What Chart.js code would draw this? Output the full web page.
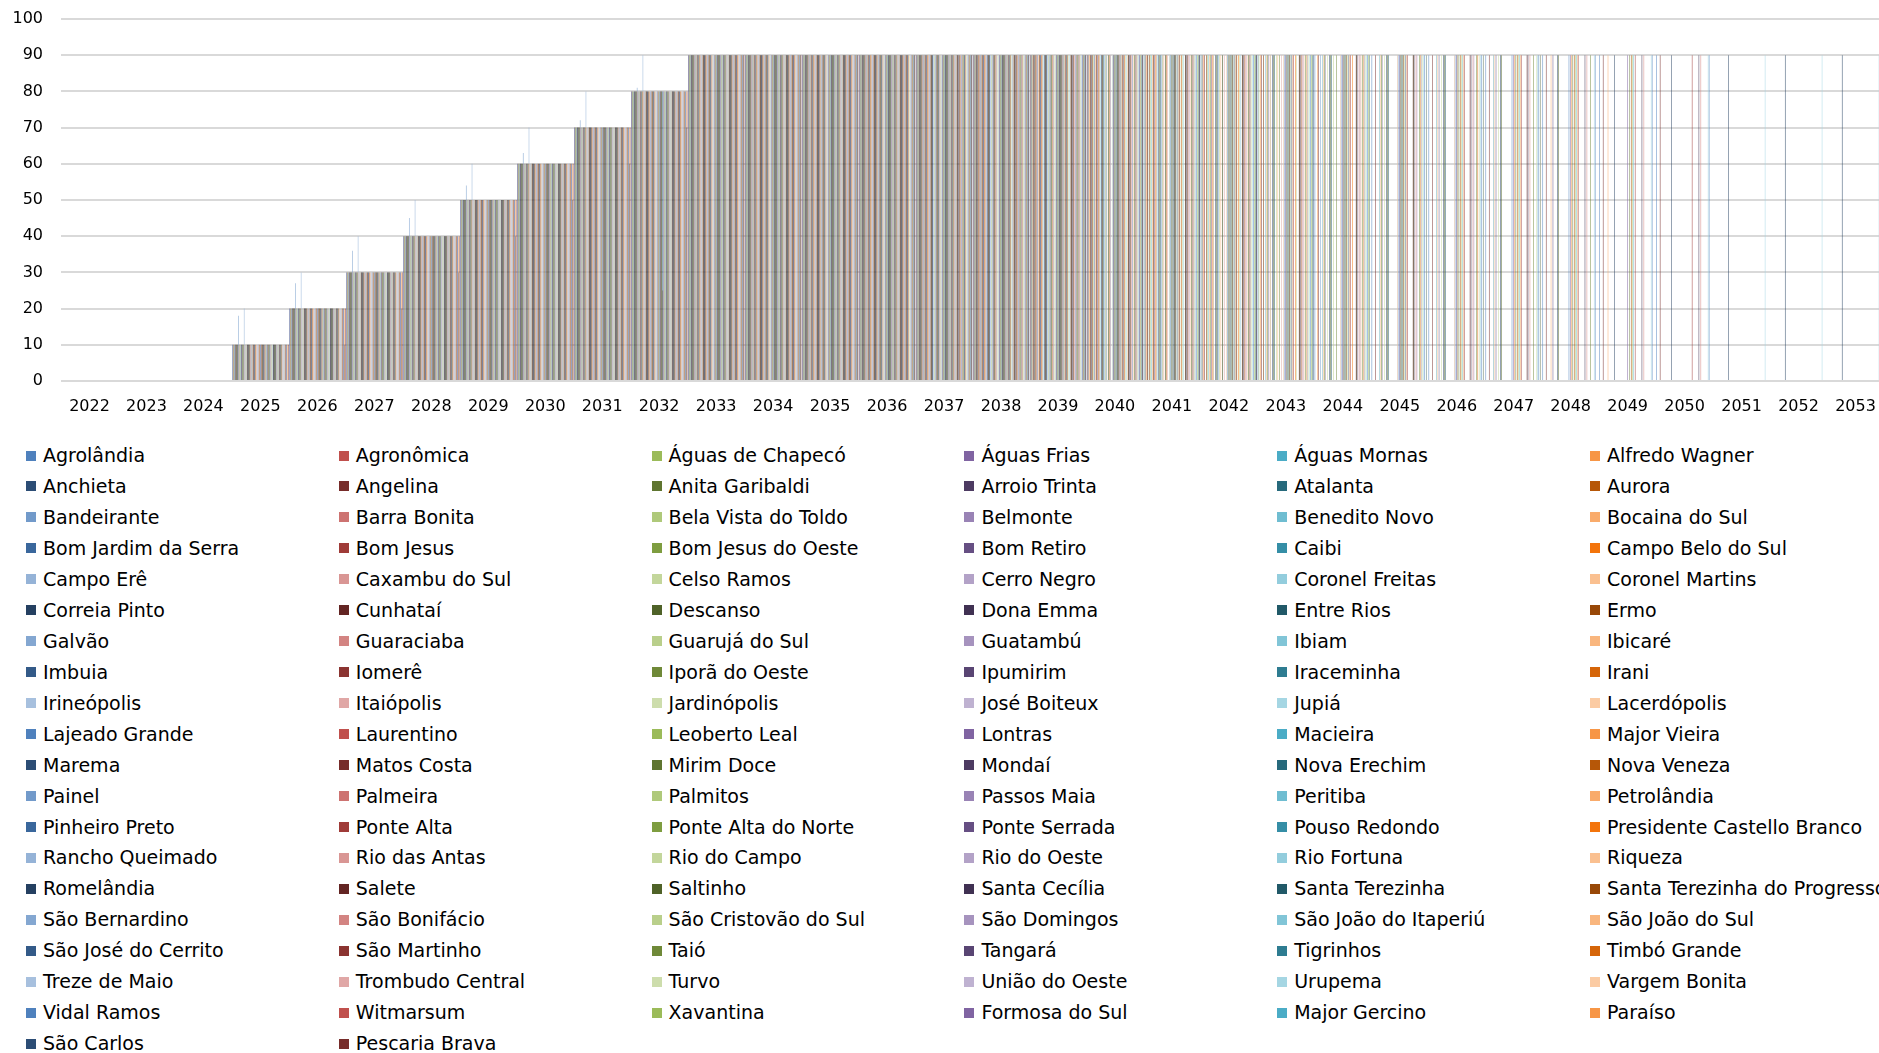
<!DOCTYPE html>
<html lang="pt-BR">
<head>
<meta charset="utf-8">
<title>Metas por município</title>
<script src="https://cdn.jsdelivr.net/npm/chart.js@4.4.0/dist/chart.umd.min.js"></script>
<style>
  html, body { margin: 0; padding: 0; background: #fff; overflow: hidden; width: 1879px; height: 1053px; }
  #grafico { position: absolute; left: 0; top: 0; }
  #legenda { position: absolute; left: 26px; top: 440px; width: 1900px; font: 19px "DejaVu Sans", Verdana, sans-serif; color: #000; }
  .item { position: absolute; white-space: nowrap; height: 31px; line-height: 31px; }
  .cor { display: inline-block; width: 10px; height: 10px; margin-right: 7px; vertical-align: middle; position: relative; top: -1px; }
</style>
</head>
<body>
<canvas id="grafico" width="1884" height="430"></canvas>
<div id="legenda"></div>
<script>
// Anos do eixo X
const anos = ['2022','2023','2024','2025','2026','2027','2028','2029','2030','2031','2032',
  '2033','2034','2035','2036','2037','2038','2039','2040','2041','2042','2043','2044',
  '2045','2046','2047','2048','2049','2050','2051','2052','2053'];

// Municípios (ordem das séries)
const municipios = [
  'Agrolândia','Agronômica','Águas de Chapecó','Águas Frias','Águas Mornas','Alfredo Wagner',
  'Anchieta','Angelina','Anita Garibaldi','Arroio Trinta','Atalanta','Aurora',
  'Bandeirante','Barra Bonita','Bela Vista do Toldo','Belmonte','Benedito Novo','Bocaina do Sul',
  'Bom Jardim da Serra','Bom Jesus','Bom Jesus do Oeste','Bom Retiro','Caibi','Campo Belo do Sul',
  'Campo Erê','Caxambu do Sul','Celso Ramos','Cerro Negro','Coronel Freitas','Coronel Martins',
  'Correia Pinto','Cunhataí','Descanso','Dona Emma','Entre Rios','Ermo',
  'Galvão','Guaraciaba','Guarujá do Sul','Guatambú','Ibiam','Ibicaré',
  'Imbuia','Iomerê','Iporã do Oeste','Ipumirim','Iraceminha','Irani',
  'Irineópolis','Itaiópolis','Jardinópolis','José Boiteux','Jupiá','Lacerdópolis',
  'Lajeado Grande','Laurentino','Leoberto Leal','Lontras','Macieira','Major Vieira',
  'Marema','Matos Costa','Mirim Doce','Mondaí','Nova Erechim','Nova Veneza',
  'Painel','Palmeira','Palmitos','Passos Maia','Peritiba','Petrolândia',
  'Pinheiro Preto','Ponte Alta','Ponte Alta do Norte','Ponte Serrada','Pouso Redondo','Presidente Castello Branco',
  'Rancho Queimado','Rio das Antas','Rio do Campo','Rio do Oeste','Rio Fortuna','Riqueza',
  'Romelândia','Salete','Saltinho','Santa Cecília','Santa Terezinha','Santa Terezinha do Progresso',
  'São Bernardino','São Bonifácio','São Cristovão do Sul','São Domingos','São João do Itaperiú','São João do Sul',
  'São José do Cerrito','São Martinho','Taió','Tangará','Tigrinhos','Timbó Grande',
  'Treze de Maio','Trombudo Central','Turvo','União do Oeste','Urupema','Vargem Bonita',
  'Vidal Ramos','Witmarsum','Xavantina','Formosa do Sul','Major Gercino','Paraíso',
  'São Carlos','Pescaria Brava'
];

// Valores (%) por ano, a partir de 2022, na mesma ordem dos municípios
const valores = [
  [0,0,0,10,20,30,40,50,60,70,80, 90,90,90,90,90, 90,90,90,90,90, 90,90,90,90,90, 90,90,90], // Agrolândia
  [0,0,0,10,20,30,40,50,60,70,80, 90,90,90,90,90, 90,90,90],
  [0,0,0,10,20,30,40,50,60,70,80, 90,90,90,90,90, 90,90,90,90,90, 90],
  [0,0,0,10,20,30,40,50,60,70,80, 90,90,90,90,90, 90,90,90,90,90],
  [0,0,0,10,20,30,40,50,60,70,80, 90,90,90,90,90, 90,90],
  [0,0,0,10,20,30,40,50,60,70,80, 90,90,90,90,90, 90,90,90,90,90, 90,90],
  [0,0,0,10,20,30,40,50,60,70,80, 90,90,90,90,90, 90], // Anchieta
  [0,0,0,10,20,30,40,50,60,70,80, 90,90,90,90,90, 90,90,90,90,90, 90,90,90,90,90, 90,90,90],
  [0,0,0,10,20,30,40,50,60,70,80, 90,90,90,90,90, 90,90,90,90],
  [0,0,0,10,20,30,40,50,60,70,80, 90,90,90,90,90, 90,90,90],
  [0,0,0,10,20,30,40,50,60,70,80, 90,90,90,90,90],
  [0,0,0,10,20,30,40,50,60,70,80, 90,90,90,90,90, 90,90,90,90,90, 90],
  [0,0,0,18,27,36,45,54,63,72,81, 90,90,90,90,90, 90,90,90,90,90, 90,90], // Bandeirante
  [0,0,0,10,20,30,40,50,60,70,80, 90,90,90,90,90, 90,90],
  [0,0,0,10,20,30,40,50,60,70,80, 90,90,90,90,90, 90,90,90,90,90],
  [0,0,0,10,20,30,40,50,60,70,80, 90,90,90,90,90, 90,90,90],
  [0,0,0,10,20,30,40,50,60,70,80, 90,90,90,90,90, 90,90,90,90,90, 90,90,90,90,90],
  [0,0,0,10,20,30,40,50,60,70,80, 90,90,90,90,90, 90,90,90,90,90, 90,90,90,90,90, 90,90],
  [0,0,0,10,20,30,40,50,60,70,80, 90,90,90,90,90, 90], // Bom Jardim da Serra
  [0,0,0,10,20,30,40,50,60,70,80, 90,90,90,90,90, 90,90,90,90],
  [0,0,0,10,20,30,40,50,60,70,80, 90,90,90,90,90, 90,90,90,90,90, 90,90,90],
  [0,0,0,10,20,30,40,50,60,70,80, 90,90,90,90,90, 90,90,90,90,90, 90,90,90,90,90, 90],
  [0,0,0,10,20,30,40,50,60,70,80, 90,90,90,90,90, 90,90],
  [0,0,0,10,20,30,40,50,60,70,80, 90,90,90,90,90, 90,90,90,90,90],
  [0,0,0,20,30,40,50,60,70,80,90, 90,90,90,90,90, 90,90,90], // Campo Erê
  [0,0,0,10,20,30,40,50,60,70,80, 90,90,90,90,90, 90,90,90,90,90, 90],
  [0,0,0,10,20,30,40,50,60,70,80, 90,90,90,90,90, 90,90,90,90,90, 90,90,90,90,90],
  [0,0,0,10,20,30,40,50,60,70,80, 90,90,90,90,90, 90],
  [0,0,0,10,20,30,40,50,60,70,80, 90,90,90,90,90, 90,90,90,90],
  [0,0,0,10,20,30,40,50,60,70,80, 90,90,90,90,90],
  [0,0,0,10,20,30,40,50,60,70,80, 90,90,90,90,90, 90,90,90,90,90, 90,90,90,90,90, 90,90,90,90,90, 90], // Correia Pinto
  [0,0,0,10,20,30,40,50,60,70,80, 90,90,90,90,90, 90,90,90],
  [0,0,0,10,20,30,40,50,60,70,80, 90,90,90,90,90, 90,90,90,90,90, 90,90,90,90,90, 90],
  [0,0,0,10,20,30,40,50,60,70,80, 90,90,90,90,90, 90,90],
  [0,0,0,10,20,30,40,50,60,70,80, 90,90,90,90,90, 90,90,90,90,90, 90,90,90,90],
  [0,0,0,10,20,30,40,50,60,70,80, 90,90,90,90],
  [0,0,0,10,20,30,40,50,60,70,80, 90,90,90,90,90, 90,90,90,90,90], // Galvão
  [0,0,0,10,20,30,40,50,60,70,80, 90,90,90,90],
  [0,0,0,10,20,30,40,50,60,70,80, 90,90,90,90,90, 90,90,90,90,90, 90,90],
  [0,0,0,10,20,30,40,50,60,70,80, 90,90,90,90,90, 90,90,90,90],
  [0,0,0,10,20,30,40,50,60,70,80, 90,90,90,90,90, 90,90,90],
  [0,0,0,10,20,30,40,50,60,70,80, 90,90,90,90,90, 90,90,90,90,90, 90],
  [0,0,0,10,20,30,40,50,60,70,80, 90,90,90,90,90, 90,90], // Imbuia
  [0,0,0,10,20,30,40,50,60,70,80, 90,90,90,90,90, 90],
  [0,0,0,10,20,30,40,50,60,70,80, 90,90,90,90,90, 90,90,90,90,90, 90,90],
  [0,0,0,10,20,30,40,50,60,70,80, 90,90,90,90,90, 90,90,90,90,90],
  [0,0,0,10,20,30,40,50,60,70,80, 90,90,90,90,90],
  [0,0,0,10,20,30,40,50,60,70,80, 90,90,90,90,90, 90,90,90,90],
  [0,0,0,10,20,30,40,50,60,70,80, 90,90,90,90,90, 90,90,90], // Irineópolis
  [0,0,0,10,20,30,40,50,60,70,80, 90,90,90,90,90, 90,90,90,90,90, 90],
  [0,0,0,10,20,30,40,50,60,70,80, 90,90,90,90,90, 90,90],
  [0,0,0,10,20,30,40,50,60,70,80, 90,90,90,90,90],
  [0,0,0,10,20,30,40,50,60,70,80, 90,90,90,90,90, 90,90,90,90],
  [0,0,0,10,20,30,40,50,60,70,80, 90,90,90,90,90, 90,90,90,90,90, 90,90,90,90],
  [0,0,0,10,20,30,40,50,60,70,80, 90,90,90,90,90, 90,90,90,90,90, 90,90,90,90,90, 90], // Lajeado Grande
  [0,0,0,10,20,30,40,50,60,70,80, 90,90,90,90,90, 90,90,90],
  [0,0,0,10,20,30,40,50,60,70,80, 90,90,90,90,90, 90,90,90,90,90],
  [0,0,0,10,20,30,40,50,60,70,80, 90,90,90,90,90, 90,90,90,90,90, 90,90,90,90,90, 90,90],
  [0,0,0,10,20,30,40,50,60,70,80, 90,90,90,90,90, 90,90,90,90,90, 90,90,90,90],
  [0,0,0,10,20,30,40,50,60,70,80, 90,90,90,90,90, 90,90,90,90,90, 90,90,90,90,90, 90],
  [0,0,0,10,20,30,40,50,60,70,80, 90,90,90,90,90, 90,90,90,90,90, 90,90,90], // Marema
  [0,0,0,10,20,30,40,50,60,70,80, 90,90,90,90,90, 90,90],
  [0,0,0,10,20,30,40,50,60,70,80, 90,90,90,90,90, 90,90,90,90,90, 90,90,90,90,90, 90,90],
  [0,0,0,10,20,30,40,50,60,70,80, 90,90,90,90,90, 90,90,90,90],
  [0,0,0,10,20,30,40,50,60,70,80, 90,90,90,90,90, 90,90,90,90,90, 90,90,90],
  [0,0,0,10,20,30,40,50,60,70,25, 90,90,90,90,90, 90,90,90,90,90, 90,90,90,90,90, 90,90], // Nova Veneza
  [0,0,0,10,20,30,40,50,60,70,80, 90,90,90,90,90, 90,90,90,90,90, 90], // Painel
  [0,0,0,10,20,30,40,50,60,70,80, 90,90,90,90,90, 90,90,90],
  [0,0,0,10,20,30,40,50,60,70,80, 90,90,90,90,90, 90,90,90,90,90, 90,90,90,90,90, 90,90],
  [0,0,0,10,20,30,40,50,60,70,80, 90,90,90,90,90, 90,90,90,90,90, 90,90,90],
  [0,0,0,10,20,30,40,50,60,70,80, 90,90,90,90,90, 90,90,90,90,90, 90,90,90,90,90, 90,90],
  [0,0,0,10,20,30,40,50,60,70,80, 90,90,90,90,90, 90,90,90,90,90, 90,90,90,90,90, 90],
  [0,0,0,10,20,30,40,50,60,70,80, 90,90,90,90,90, 90], // Pinheiro Preto
  [0,0,0,10,20,30,40,50,60,70,80, 90,90,90,90,90, 90,90,90,90,90, 90,90,90,90,90, 90,90,90],
  [0,0,0,10,20,30,40,50,60,70,80, 90,90,90,90,90, 90,90,90,90,90],
  [0,0,0,10,20,30,40,50,60,70,80, 90,90,90,90,90, 90,90,90],
  [0,0,0,10,20,30,40,50,60,70,80, 90,90,90,90,90, 90,90],
  [0,0,0,10,20,30,40,50,60,70,80, 90,90,90,90,90, 90,90,90,90,90, 90,90],
  [0,0,0,10,20,30,40,50,60,70,80, 90,90,90,90,90, 90,90,90,90], // Rancho Queimado
  [0,0,0,10,20,30,40,50,60,70,80, 90,90,90,90,90],
  [0,0,0,10,20,30,40,50,60,70,80, 90,90,90,90,90, 90,90,90,90,90, 90],
  [0,0,0,10,20,30,40,50,60,70,80, 90,90,90,90,90, 90],
  [0,0,0,10,20,30,40,50,60,70,80, 90,90,90,90,90, 90,90,90,90,90],
  [0,0,0,10,20,30,40,50,60,70,80, 90,90,90,90,90, 90,90,90],
  [0,0,0,10,20,30,40,50,60,70,80, 90,90,90,90,90, 90,90], // Romelândia
  [0,0,0,10,20,30,40,50,60,70,80, 90,90,90,90,90, 90,90,90,90,90, 90,90,90,90,90],
  [0,0,0,10,20,30,40,50,60,70,80, 90,90,90,90,90, 90,90,90,90,90, 90,90,90],
  [0,0,0,10,20,30,40,50,60,70,80, 90,90,90,90,90, 90,90,90,90,90, 90,90,90,90,90, 90,90,90],
  [0,0,0,10,20,30,40,50,60,70,80, 90,90,90,90],
  [0,0,0,10,20,30,40,50,60,70,80, 90,90,90,90,90, 90,90,90,90,90, 90],
  [0,0,0,10,20,30,40,50,60,70,80, 90,90,90,90,90, 90,90,90,90], // São Bernardino
  [0,0,0,10,20,30,40,50,60,70,80, 90,90,90,90,90, 90,90,90,90,90, 90,90,90,90,90, 90,90,90],
  [0,0,0,10,20,30,40,50,60,70,80, 90,90,90,90,90, 90],
  [0,0,0,10,20,30,40,50,60,70,80, 90,90,90,90,90, 90,90,90,90,90, 90,90,90,90],
  [0,0,0,10,20,30,40,50,60,70,80, 90,90,90,90,90, 90,90,90],
  [0,0,0,10,20,30,40,50,60,70,80, 90,90,90,90,90, 90,90,90,90,90, 90,90],
  [0,0,0,10,20,30,40,50,60,70,80, 90,90,90,90,90, 90,90], // São José do Cerrito
  [0,0,0,10,20,30,40,50,60,70,80, 90,90,90,90],
  [0,0,0,10,20,30,40,50,60,70,80, 90,90,90,90,90, 90,90,90,90,90, 90,90,90,90,90, 90],
  [0,0,0,10,20,30,40,50,60,70,80, 90,90,90,90,90, 90,90,90,90,90],
  [0,0,0,10,20,30,40,50,60,70,80, 90,90,90,90,90],
  [0,0,0,10,20,30,40,50,60,70,80, 90,90,90,90,90, 90,90,90,90,90, 90,90,90,90],
  [0,0,0,10,20,30,40,50,60,70,80, 90,90,90,90,90, 90,90,90,90,90, 90,90,90], // Treze de Maio
  [0,0,0,10,20,30,40,50,60,70,80, 90,90,90],
  [0,0,0,10,20,30,40,50,60,70,80, 90,90,90,90,90, 90,90,90,90,90, 90,90,90,90,90],
  [0,0,0,10,20,30,40,50,60,70,80, 90,90,90,90,90, 90,90,90,90],
  [0,0,0,10,20,30,40,50,60,70,80, 90,90,90,90,90, 90,90,90,90,90, 90,90,90,90,90, 90,90,90,90,90, 90], // Urupema
  [0,0,0,10,20,30,40,50,60,70,80, 90,90,90,90,90, 90],
  [0,0,0,10,20,30,40,50,60,70,80, 90,90,90,90,90, 90,90,90,90,90, 90,90,90,90,90, 90,90,90], // Vidal Ramos
  [0,0,0,10,20,30,40,50,60,70,80, 90,90,90,90,90, 90,90,90],
  [0,0,0,10,20,30,40,50,60,70,80, 90,90,90,90,90, 90,90,90,90,90, 90,90],
  [0,0,0,10,20,30,40,50,60,70,80, 90,90,90,90,90, 90,90],
  [0,0,0,10,20,30,40,50,60,70,80, 90,90,90,90,90, 90,90,90,90,90, 90,90,90,90,90],
  [0,0,0,10,20,30,40,50,60,70,80, 90,90,90,90,90, 90,90,90,90,90, 90,90,90,90,90],
  [0,0,0,0,10,20,30,40,50,60,70, 90,90,90,90,90, 90,90,90,90,90, 90], // São Carlos
  [0,0,0,10,20,30,40,50,60,70,80, 90,90,90,90,90, 90,90,90,90,90]  // Pescaria Brava
];

// Cores do tema (Office) e variações de luminosidade por linha da legenda
const coresTema = ['#4F81BD', '#C0504D', '#9BBB59', '#8064A2', '#4BACC6', '#F79646'];
const variacoes = [[1, 0], [0.6, 0], [0.8, 0.2], [0.8, 0], [0.6, 0.4], [0.5, 0], [0.7, 0.3], [0.7, 0], [0.5, 0.5]];

function hexParaHsl(hex) {
    const r = parseInt(hex.slice(1, 3), 16) / 255;
    const g = parseInt(hex.slice(3, 5), 16) / 255;
    const b = parseInt(hex.slice(5, 7), 16) / 255;
    const max = Math.max(r, g, b), min = Math.min(r, g, b);
    const l = (max + min) / 2;
    let h = 0, s = 0;
    if (max !== min) {
        const d = max - min;
        s = l > 0.5 ? d / (2 - max - min) : d / (max + min);
        if (max === r) h = (g - b) / d + (g < b ? 6 : 0);
        else if (max === g) h = (b - r) / d + 2;
        else h = (r - g) / d + 4;
        h /= 6;
    }
    return [h, s, l];
}

function hslParaRgb(h, s, l) {
    const f = (p, q, t) => {
        if (t < 0) t += 1;
        if (t > 1) t -= 1;
        if (t < 1 / 6) return p + (q - p) * 6 * t;
        if (t < 1 / 2) return q;
        if (t < 2 / 3) return p + (q - p) * (2 / 3 - t) * 6;
        return p;
    };
    const q = l < 0.5 ? l * (1 + s) : l + s - l * s;
    const p = 2 * l - q;
    const r = Math.round(f(p, q, h + 1 / 3) * 255);
    const g = Math.round(f(p, q, h) * 255);
    const b = Math.round(f(p, q, h - 1 / 3) * 255);
    return `rgb(${r}, ${g}, ${b})`;
}

function corDaSerie(i) {
    const [h, s, l] = hexParaHsl(coresTema[i % 6]);
    const [mod, off] = variacoes[Math.floor(i / 6) % variacoes.length];
    return hslParaRgb(h, s, Math.min(1, l * mod + off));
}

const datasets = municipios.map((nome, i) => ({
    label: nome,
    data: valores[i],
    backgroundColor: corDaSerie(i),
    borderWidth: 0
}));

const fonteEixo = { family: '"DejaVu Sans", Verdana, sans-serif', size: 16 };

const ctx = document.getElementById('grafico').getContext('2d');
const grafico = new Chart(ctx, {
    type: 'bar',
    data: { labels: anos, datasets: datasets },
    options: {
        responsive: false,
        animation: false,
        devicePixelRatio: 1,
        layout: { padding: { top: 19, right: 0, bottom: 0, left: 0 } },
        plugins: { legend: { display: false }, tooltip: { enabled: false } },
        datasets: { bar: { categoryPercentage: 116 / 117.5, barPercentage: 1 } },
        scales: {
            x: {
                grid: { display: false },
                border: { display: false },
                ticks: { font: fonteEixo, color: '#000', padding: 8, autoSkip: false, maxRotation: 0 },
                afterFit: (escala) => { escala.height = 49; }
            },
            y: {
                min: 0,
                max: 100,
                grid: { color: '#D9D9D9', lineWidth: 2, drawTicks: false },
                border: { display: false },
                ticks: { stepSize: 10, font: fonteEixo, color: '#000', padding: 18 },
                afterFit: (escala) => {
                    escala.width = 61;
                    escala.paddingTop = 0;
                    escala.paddingBottom = 0;
                }
            }
        }
    }
});

// Legenda em grade (6 colunas), montada a partir das séries do gráfico
const legenda = document.getElementById('legenda');
grafico.data.datasets.forEach((ds, i) => {
    const item = document.createElement('div');
    item.className = 'item';
    item.style.left = `${(i % 6) * 312.8}px`;
    item.style.top = `${Math.floor(i / 6) * 30.96}px`;
    const cor = document.createElement('span');
    cor.className = 'cor';
    cor.style.background = ds.backgroundColor;
    item.appendChild(cor);
    item.appendChild(document.createTextNode(ds.label));
    legenda.appendChild(item);
});
</script>
</body>
</html>
